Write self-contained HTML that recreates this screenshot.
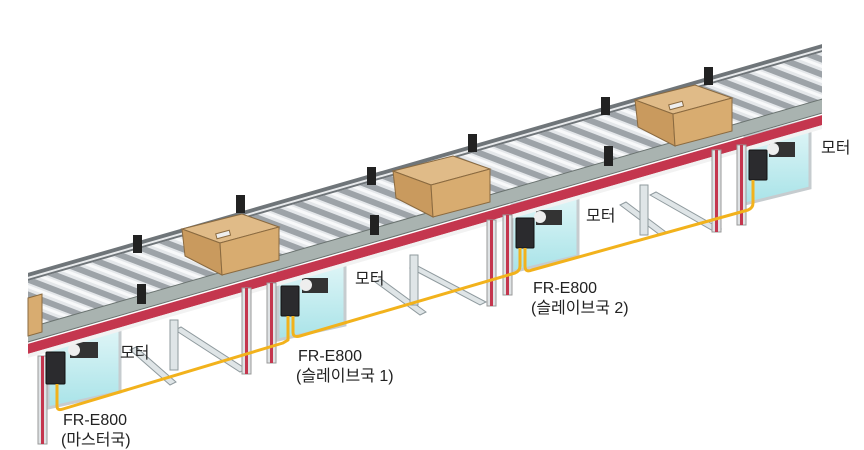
<!DOCTYPE html>
<html><head><meta charset="utf-8"><style>
html,body{margin:0;padding:0;background:#fff;}
svg{display:block}
text{font-family:"Liberation Sans","Noto Sans CJK KR",sans-serif;fill:#222;font-size:16px}
</style></head><body>
<svg width="864" height="450" viewBox="0 0 864 450" xmlns="http://www.w3.org/2000/svg">
<defs>
<pattern id="rol" patternUnits="userSpaceOnUse" width="40" height="14" patternTransform="rotate(21)">
<rect width="40" height="14" fill="#9da3a8"/>
<rect y="2" width="40" height="8" fill="#e4e7ea"/>
<rect y="4" width="40" height="3" fill="#f8f9fa"/>
</pattern>
<linearGradient id="mb" x1="0" y1="0" x2="0" y2="1"><stop offset="0" stop-color="#e4f7f8"/><stop offset="1" stop-color="#a8e3e8"/></linearGradient>
<clipPath id="cl"><path d="M28 0 L822 0 L822 450 L28 450Z"/></clipPath>
</defs>

<g fill="#dfe5e7" stroke="#8f9a9e" stroke-width="1">
<path d="M130 350 L170 385 L176 382 L136 347Z"/>
<path d="M175 330 L240 372 L246 369 L181 327Z"/>
<path d="M375 282 L420 315 L426 312 L381 279Z"/>
<path d="M410 268 L480 305 L486 302 L416 265Z"/>
<path d="M620 205 L660 235 L666 232 L626 202Z"/>
<path d="M650 195 L715 232 L721 229 L656 192Z"/>
<rect x="170" y="320" width="8" height="50"/><rect x="410" y="255" width="8" height="50"/>
<rect x="640" y="185" width="8" height="50"/>
</g>

<g stroke="#c6cccf" stroke-width="3">
<path d="M48 340 L120 322 L120 392 L48 408Z" fill="url(#mb)"/>
<path d="M278 272 L345 256 L345 325 L278 340Z" fill="url(#mb)"/>
<path d="M512 205 L578 188 L578 256 L512 272Z" fill="url(#mb)"/>
<path d="M745 137 L810 120 L810 188 L745 204Z" fill="url(#mb)"/>
</g>
<g fill="#333">
<rect x="70" y="342" width="28" height="16"/><rect x="302" y="278" width="26" height="15"/>
<rect x="536" y="210" width="26" height="15"/><rect x="769" y="142" width="26" height="15"/>
</g>
<g fill="#eee"><circle cx="74" cy="350" r="6"/><circle cx="306" cy="285" r="6"/><circle cx="540" cy="217" r="6"/><circle cx="773" cy="149" r="6"/></g>

<g clip-path="url(#cl)">
<path d="M0 289 L864 40 L864 87 L0 336Z" fill="url(#rol)"/>
<path d="M0 281 L864 32 L864 40 L0 289Z" fill="#6f7579"/>
<path d="M0 285 L864 36 L864 38 L0 287Z" fill="#e8eaec"/>
<path d="M0 336 L864 87 L864 101 L0 350Z" fill="#a9b3b0" stroke="#6a7370" stroke-width="1"/>
<path d="M0 352 L864 103 L864 113 L0 362Z" fill="#c4364e"/>
<path d="M0 362 L864 113 L864 117 L0 366Z" fill="#f2f2f2"/>
</g>

<g>
<rect x="38" y="356" width="9" height="88" fill="#dfe3e5" stroke="#999"/><rect x="41" y="356" width="3" height="88" fill="#c4364e"/>
<rect x="242" y="288" width="9" height="86" fill="#dfe3e5" stroke="#999"/><rect x="245" y="288" width="3" height="86" fill="#c4364e"/>
<rect x="267" y="283" width="9" height="80" fill="#dfe3e5" stroke="#999"/><rect x="270" y="283" width="3" height="80" fill="#c4364e"/>
<rect x="487" y="220" width="9" height="86" fill="#dfe3e5" stroke="#999"/><rect x="490" y="220" width="3" height="86" fill="#c4364e"/>
<rect x="503" y="215" width="9" height="80" fill="#dfe3e5" stroke="#999"/><rect x="506" y="215" width="3" height="80" fill="#c4364e"/>
<rect x="712" y="150" width="9" height="82" fill="#dfe3e5" stroke="#999"/><rect x="715" y="150" width="3" height="82" fill="#c4364e"/>
<rect x="737" y="145" width="9" height="80" fill="#dfe3e5" stroke="#999"/><rect x="740" y="145" width="3" height="80" fill="#c4364e"/>
</g>

<g fill="#222">
<rect x="133" y="235" width="9" height="18"/><rect x="137" y="284" width="9" height="20"/>
<rect x="236" y="195" width="9" height="18"/><rect x="370" y="215" width="9" height="20"/>
<rect x="367" y="167" width="9" height="18"/><rect x="468" y="134" width="9" height="18"/>
<rect x="604" y="146" width="9" height="20"/><rect x="601" y="97" width="9" height="18"/>
<rect x="704" y="67" width="9" height="18"/>
</g>

<g stroke="#8a6a40" stroke-width="1">
<g>
<path d="M182 229 L242 214 L279 227 L220 243Z" fill="#e0bb88"/>
<path d="M182 229 L220 243 L222 275 L185 256Z" fill="#c99a5e"/>
<path d="M220 243 L279 227 L279 260 L222 275Z" fill="#d8ac70"/>
<rect x="216" y="232" width="14" height="5" fill="#eee" transform="rotate(-15 223 234)"/>
</g>
<g transform="translate(211,-58)">
<path d="M182 229 L242 214 L279 227 L220 243Z" fill="#e0bb88"/>
<path d="M182 229 L220 243 L222 275 L185 256Z" fill="#c99a5e"/>
<path d="M220 243 L279 227 L279 260 L222 275Z" fill="#d8ac70"/>
</g>
<g transform="translate(453,-129)">
<path d="M182 229 L242 214 L279 227 L220 243Z" fill="#e0bb88"/>
<path d="M182 229 L220 243 L222 275 L185 256Z" fill="#c99a5e"/>
<path d="M220 243 L279 227 L279 260 L222 275Z" fill="#d8ac70"/>
<rect x="216" y="232" width="14" height="5" fill="#eee" transform="rotate(-15 223 234)"/>
</g>
<path d="M28 298 L42 294 L42 332 L28 336Z" fill="#d8ac70"/>
</g>

<g fill="#2b2b2e" stroke="#111">
<rect x="46" y="352" width="19" height="32" rx="1"/>
<rect x="281" y="286" width="18" height="30" rx="1"/>
<rect x="516" y="218" width="18" height="30" rx="1"/>
<rect x="749" y="150" width="18" height="30" rx="1"/>
</g>

<g fill="none" stroke="#f2b21c" stroke-width="3" stroke-linejoin="round">
<path d="M57 384 L57 406 Q57 411 63 409 L283 343 L288 340 L288 316"/>
<path d="M293 316 L293 332 Q293 338 300 336 L515 273 Q520 271 520 266 L520 248"/>
<path d="M525 248 L525 266 Q525 273 532 270 L748 210 Q753 208 753 203 L753 180"/>
</g>

<text x="120" y="358">모터</text>
<text x="355" y="284">모터</text>
<text x="586" y="221">모터</text>
<text x="821" y="153">모터</text>
<text x="63" y="425">FR-E800</text>
<text x="61" y="445">(마스터국)</text>
<text x="298" y="361">FR-E800</text>
<text x="296" y="381">(슬레이브국 1)</text>
<text x="533" y="293">FR-E800</text>
<text x="531" y="313">(슬레이브국 2)</text>
</svg>
</body></html>
